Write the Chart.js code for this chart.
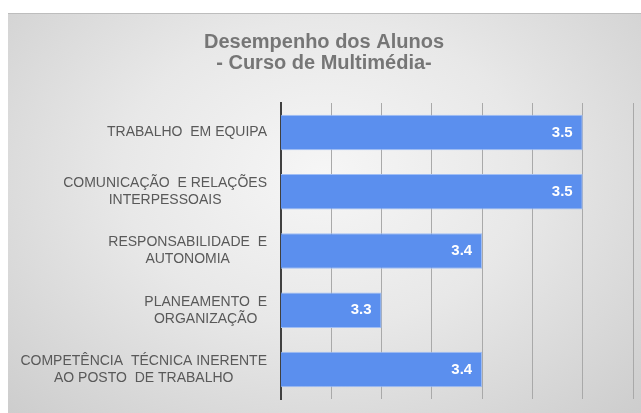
<!DOCTYPE html>
<html>
<head>
<meta charset="utf-8">
<script src="https://cdn.jsdelivr.net/npm/chart.js@4"></script>
<style>
    html, body { margin: 0; padding: 0; background: #ffffff; }
    #wrap {
        position: absolute;
        left: 8px;
        top: 13px;
        width: 633px;
        height: 400px;
        border-top: 1px solid #bdbdbd;
        box-sizing: border-box;
        background: radial-gradient(ellipse farthest-corner at 50% 40%, #f6f6f6 0%, #e8e8e8 45%, #cdcdcd 100%);
    }
</style>
</head>
<body>
<div id="wrap"><canvas id="chart" width="633" height="399"></canvas></div>
<script>
// dados do gráfico
const titleLines = ['Desempenho dos Alunos', '- Curso de Multimédia-'];
const categories = [
    ['TRABALHO  EM EQUIPA'],
    ['COMUNICAÇÃO  E RELAÇÕES', 'INTERPESSOAIS'],
    ['RESPONSABILIDADE  E', 'AUTONOMIA'],
    ['PLANEAMENTO  E', 'ORGANIZAÇÃO'],
    ['COMPETÊNCIA  TÉCNICA INERENTE', 'AO POSTO  DE TRABALHO']
];
const scores = [3.5, 3.5, 3.4, 3.3, 3.4];
const axisMin = 3.2;
const axisMax = 3.55;
const axisStep = 0.05;

// título desenhado à mão
const titlePlugin = {
    id: 'titlePlugin',
    afterDraw(chart) {
        const ctx = chart.ctx;
        ctx.save();
        ctx.fillStyle = '#767676';
        ctx.font = 'bold 20px "Liberation Sans", Arial, sans-serif';
        ctx.textAlign = 'center';
        ctx.textBaseline = 'middle';
        titleLines.forEach((t, i) => ctx.fillText(t, 316, 28 + i * 21));
        ctx.restore();
    }
};

// rótulos das categorias (cada rótulo centrado em si, alinhado à direita)
const labelPlugin = {
    id: 'labelPlugin',
    afterDraw(chart) {
        const ctx = chart.ctx;
        const y = chart.scales.y;
        ctx.save();
        ctx.fillStyle = '#595959';
        ctx.font = '14px "Liberation Sans", Arial, sans-serif';
        ctx.textAlign = 'center';
        ctx.textBaseline = 'middle';
        categories.forEach((lines, i) => {
            const cy = y.getPixelForValue(i);
            const maxW = Math.max(...lines.map(l => ctx.measureText(l).width));
            const cx = y.right - 14 - maxW / 2;
            const lh = 17;
            lines.forEach((l, j) => {
                ctx.fillText(l, cx, cy + (j - (lines.length - 1) / 2) * lh);
            });
        });
        ctx.restore();
    }
};

// valores dentro das barras
const valuePlugin = {
    id: 'valuePlugin',
    afterDatasetsDraw(chart) {
        const ctx = chart.ctx;
        const meta = chart.getDatasetMeta(0);
        ctx.save();
        ctx.fillStyle = '#ffffff';
        ctx.font = 'bold 15px "Liberation Sans", Arial, sans-serif';
        ctx.textAlign = 'right';
        ctx.textBaseline = 'middle';
        meta.data.forEach((bar, i) => {
            ctx.fillText(scores[i].toFixed(1), bar.x - 10, bar.y);
        });
        ctx.restore();
    }
};

const ctx = document.getElementById('chart').getContext('2d');
const chart = new Chart(ctx, {
    type: 'bar',
    data: {
        labels: categories,
        datasets: [{
            data: scores,
            backgroundColor: 'rgb(91, 143, 238)',
            borderColor: 'rgba(160, 190, 245, 1)',
            borderWidth: 1,
            barPercentage: 0.6,
            categoryPercentage: 1.0
        }]
    },
    options: {
        indexAxis: 'y',
        responsive: false,
        animation: false,
        layout: { padding: { top: 89, bottom: 14, left: 0, right: 8 } },
        plugins: {
            legend: { display: false },
            title: { display: false },
            tooltip: { enabled: false }
        },
        scales: {
            x: {
                min: axisMin,
                max: axisMax,
                ticks: { display: false, stepSize: axisStep },
                grid: { color: '#a9a9a9', lineWidth: 1, drawTicks: false },
                border: { display: false },
                afterFit(scale) { scale.height = 0; }
            },
            y: {
                ticks: { display: false },
                grid: { display: false, drawTicks: false },
                border: { display: true, color: '#404040', width: 2 },
                afterFit(scale) { scale.width = 273; }
            }
        }
    },
    plugins: [titlePlugin, labelPlugin, valuePlugin]
});
</script>
</body>
</html>
